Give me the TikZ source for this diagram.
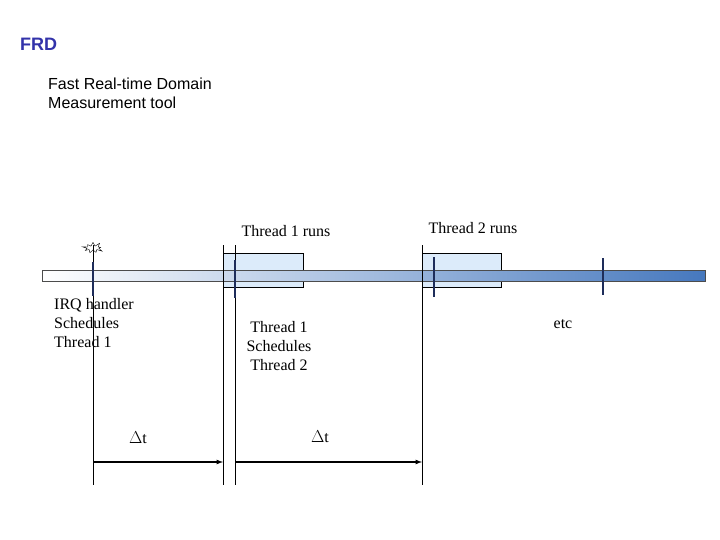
\documentclass[tikz,border=0pt]{standalone}
\usepackage{fontspec}
\setmainfont{Liberation Serif}
\newfontfamily\sansf{Liberation Sans}
\usetikzlibrary{shapes.symbols}
\definecolor{frdblue}{RGB}{51,51,170}
\definecolor{barblue}{RGB}{70,120,190}
\definecolor{boxfill}{RGB}{220,235,250}
\definecolor{markc}{RGB}{30,45,90}
\begin{document}
\begin{tikzpicture}[x=1pt,y=-1pt,
  txt/.style={font=\fontsize{16}{19}\selectfont,align=center,inner sep=0pt},
  vline/.style={black,line width=0.6pt},
  tick/.style={markc,line width=2pt},
  arr/.style={-latex,line width=1.2pt}]
\useasboundingbox (0,0) rectangle (720,540);
\node[font=\sansf\bfseries\fontsize{18}{20}\selectfont,text=frdblue,anchor=west,inner sep=0pt] (t) at (20,44) {FRD};
\node[font=\sansf\fontsize{16}{19}\selectfont,align=left,anchor=north west,inner sep=0pt] (s) at (48,78) {Fast Real-time Domain\\Measurement tool};
\node[draw=black,line width=0.4pt,fill=boxfill,minimum width=80pt,minimum height=34pt,anchor=north west,inner sep=0pt] (b1) at (223,253) {};
\node[draw=black,line width=0.4pt,fill=boxfill,minimum width=79pt,minimum height=34pt,anchor=north west,inner sep=0pt] (b2) at (422,253) {};
\shade[left color=white,right color=barblue,draw=black!70,line width=0.5pt] (42,270) rectangle (705,281);
\node[starburst,starburst points=9,starburst point height=5pt,draw=black,line width=0.4pt,minimum width=22pt,minimum height=14pt,inner sep=0pt] (burst) at (93,248) {};
\coordinate (v1t) at (93,245); \coordinate (v1b) at (93,485);
\coordinate (v2t) at (223,245); \coordinate (v2b) at (223,485);
\coordinate (v3t) at (235,245); \coordinate (v3b) at (235,485);
\coordinate (v4t) at (422,245); \coordinate (v4b) at (422,485);
\draw[vline] (v1t)--(v1b); \draw[vline] (v2t)--(v2b);
\draw[vline] (v3t)--(v3b); \draw[vline] (v4t)--(v4b);
\draw[tick] (93,262)--(93,296);
\draw[tick] (235,260)--(235,298);
\draw[tick] (434,257)--(434,297);
\draw[tick] (603,258)--(603,295);
\node[txt] (l1) at (286,231) {Thread 1 runs};
\node[txt] (l2) at (473,228) {Thread 2 runs};
\node[txt,align=left,anchor=north west] (irq) at (54,298) {IRQ handler\\Schedules\\Thread 1};
\node[txt] (t1s) at (279,346) {Thread 1\\Schedules\\Thread 2};
\node[txt] (etc) at (563,324) {etc};
\node[txt] (d1) at (138,438) {$\Delta$t};
\node[txt] (d2) at (320,437) {$\Delta$t};
\coordinate (a1) at (93,462); \coordinate (a2) at (223,462);
\coordinate (a3) at (235,462); \coordinate (a4) at (422,462);
\draw[arr] (a1)--(a2);
\draw[arr] (a3)--(a4);
\end{tikzpicture}
\end{document}
